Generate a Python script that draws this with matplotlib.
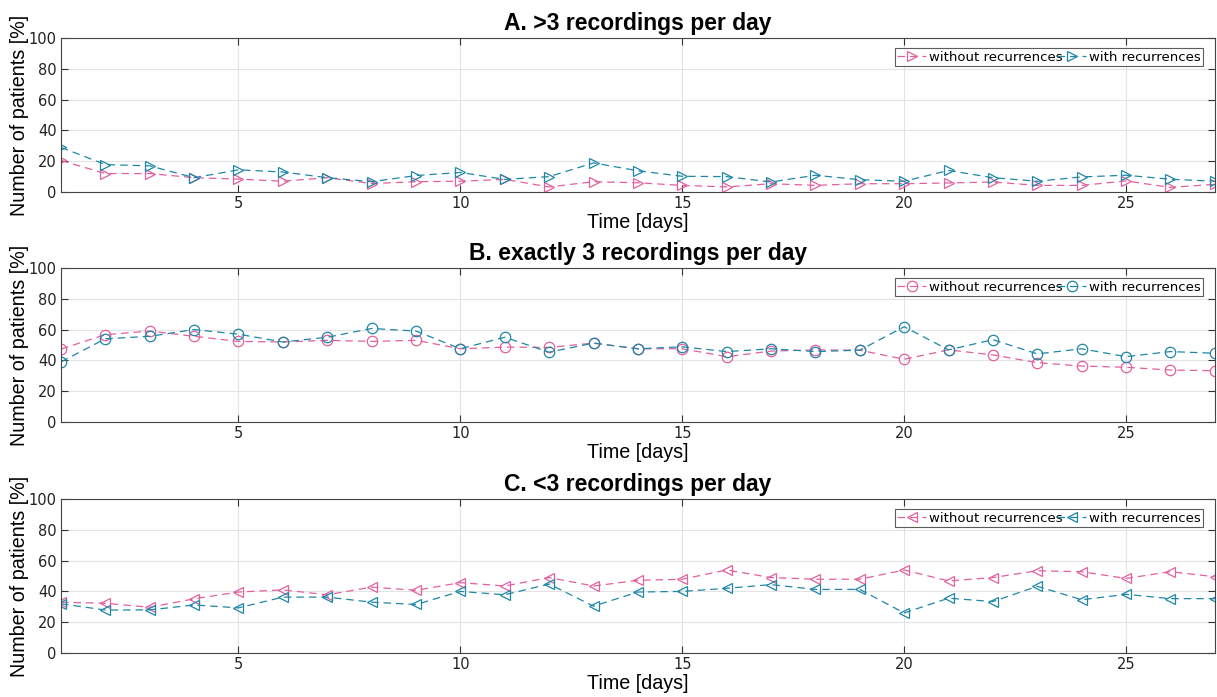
import numpy as np
import matplotlib.pyplot as plt

days = np.arange(1, 28)

# A. >3 recordings per day
a_without = [20.5, 12, 12, 9.3, 8.4, 7, 9.3, 5.5, 6.7, 7, 8.2, 3.3, 6.7, 6,
             4.3, 3.3, 5.4, 4.3, 5.4, 5.4, 5.9, 6.5, 4.3, 4.3, 7.2, 3, 5]
a_with = [29, 17.8, 17, 9.3, 14.4, 13, 9.3, 6.7, 10.7, 12.7, 8.2, 10, 18.9, 13.8,
          10.2, 10, 6.5, 10.9, 8, 7, 14, 9.3, 7, 9.8, 10.9, 8.3, 7]

# B. exactly 3 recordings per day
b_without = [47.3, 56.7, 59, 55.6, 52.3, 51.9, 53, 52.3, 53, 47.5, 48.6, 48.4, 51.2, 47.5,
             47.5, 42.4, 46, 46.8, 46.6, 40.7, 46.8, 43.5, 38.5, 36.3, 35.5, 33.7, 33.3]
b_with = [39, 54, 55.6, 60, 57, 51.9, 55, 60.7, 59, 47.5, 55, 45.3, 51.2, 47.5,
          48.8, 45.7, 47.5, 45.7, 46.6, 61.8, 46.8, 53.4, 44.2, 47.5, 42.4, 45.7, 44.6]

# C. <3 recordings per day
c_without = [33, 32.3, 29.7, 35.2, 39.6, 41, 37.8, 42.8, 40.7, 45.7, 43.5, 49, 43.5, 47.2,
             47.9, 53.9, 49, 47.9, 47.9, 53.9, 46.8, 49, 53.4, 52.8, 48.4, 52.8, 49.5]
c_with = [32, 27.9, 28, 31.2, 29.3, 36.3, 36.3, 33, 31.5, 40, 37.8, 44.8, 30.4, 39.6,
          40, 42, 44.4, 41.3, 41.3, 26, 35.6, 33.4, 43.3, 34.6, 38.1, 35.3, 35.3]

titles = ['A. >3 recordings per day', 'B. exactly 3 recordings per day', 'C. <3 recordings per day']
markers = ['>', 'o', '<']
labels = ['without recurrences', 'with recurrences']
pink = '#e2609f'
blue = '#1f87a6'
sans = 'Liberation Sans'

fig = plt.figure(figsize=(12.17, 6.97), dpi=100)
boxes = [(0.0501, 0.7245, 0.9481, 0.221),
         (0.0501, 0.3946, 0.9481, 0.221),
         (0.0501, 0.0631, 0.9481, 0.221)]
data = [(a_without, a_with), (b_without, b_with), (c_without, c_with)]

for box, title, mk, (wo, wi) in zip(boxes, titles, markers, data):
    ax = fig.add_axes(box)
    ax.plot(days, wo, ls='--', lw=0.9, color=pink, marker=mk, ms=7.5,
            mfc='none', mec=pink, mew=0.9, dashes=(6, 4), label=labels[0])
    ax.plot(days, wi, ls='--', lw=0.9, color=blue, marker=mk, ms=7.5,
            mfc='none', mec=blue, mew=0.9, dashes=(6, 4), label=labels[1])
    ax.set_xlim(1, 27)
    ax.set_ylim(0, 100)
    ax.set_xticks([5, 10, 15, 20, 25])
    ax.set_yticks([0, 20, 40, 60, 80, 100])
    ax.grid(True, color='#e3e3e3', lw=0.8)
    ax.set_axisbelow(True)
    ax.tick_params(direction='in', top=True, right=True, labelsize=10.5,
                   length=5, color='#333333', labelcolor='#222222', pad=3)
    for s in ax.spines.values():
        s.set_color('#444444')
        s.set_linewidth(0.8)
    ax.set_title(title, fontsize=16.5, fontweight='bold', family=sans, pad=5.5)
    ax.set_xlabel('Time [days]', fontsize=14.2, family=sans, labelpad=1)
    ax.set_ylabel('Number of patients [%]', fontsize=14.2, family=sans, labelpad=0)
    leg = ax.legend(ncol=2, loc='upper right', bbox_to_anchor=(0.99, 0.935),
                    fontsize=9.5, frameon=True, fancybox=False, edgecolor='#333333',
                    handlelength=2.2, columnspacing=-0.4, handletextpad=0.2,
                    borderpad=0.2, borderaxespad=0)
    leg.get_frame().set_linewidth(0.8)

plt.savefig('out.png', dpi=100)
